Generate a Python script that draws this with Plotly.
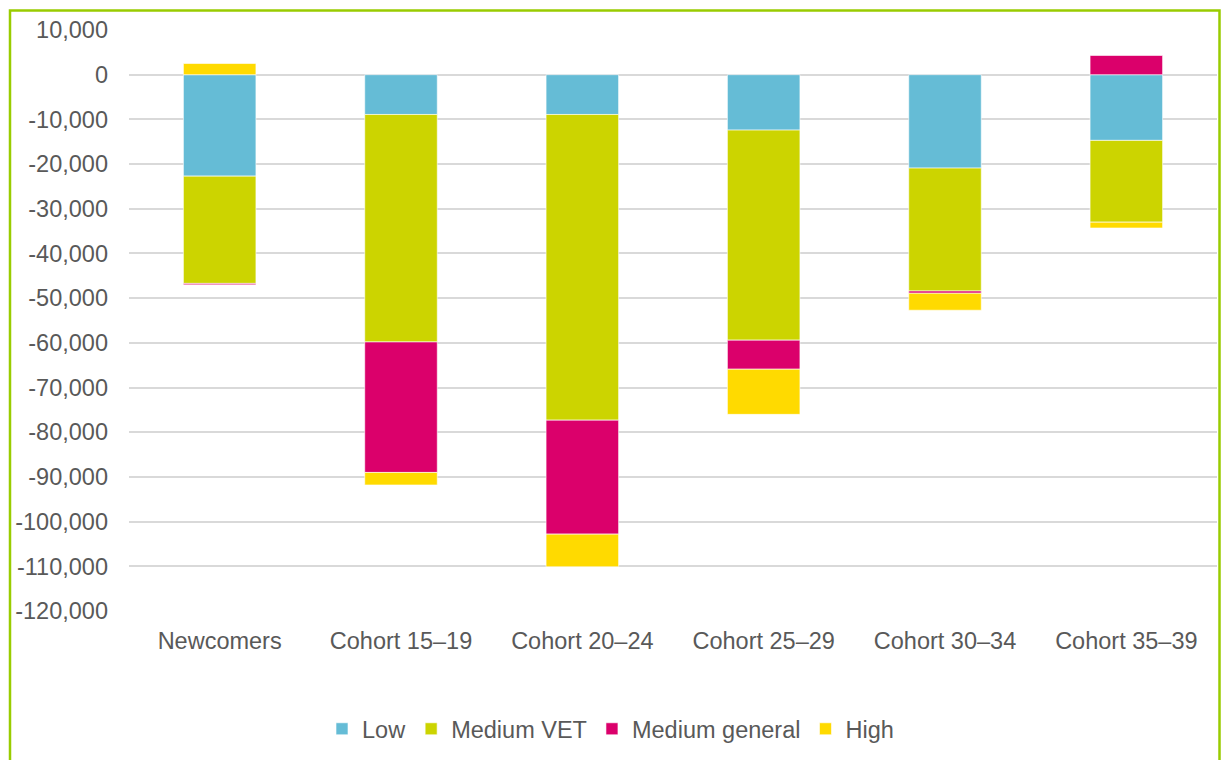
import plotly.graph_objects as go

categories = ["Newcomers", "Cohort 15–19", "Cohort 20–24", "Cohort 25–29", "Cohort 30–34", "Cohort 35–39"]
low = [-22700, -8900, -8900, -12400, -20900, -14700]
medium_vet = [-24000, -50900, -68400, -47000, -27500, -18300]
medium_general = [-300, -29200, -25500, -6500, -500, 4300]
high = [2500, -2800, -7300, -10100, -3800, -1300]

tick_vals = list(range(10000, -120001, -10000))
tick_text = [f"{v:,}" for v in tick_vals]

series = [
    ("Low", low, "#65BCD6"),
    ("Medium VET", medium_vet, "#CCD400"),
    ("Medium general", medium_general, "#DB006B"),
    ("High", high, "#FFDA00"),
]

fig = go.Figure()
for name, vals, col in series:
    fig.add_trace(go.Bar(
        x=categories, y=vals, name=name,
        marker=dict(color=col, line=dict(color="rgba(255,255,255,0.6)", width=1)),
    ))

W, H = 1221, 760
L, R, T, B = 129, W - 1217, 30, H - 611
pw, ph = W - L - R, H - T - B
FS = 23.5

def px(x):
    return (x - L) / pw

def py(y):
    return (H - B - y) / ph

fig.update_layout(
    width=W, height=H,
    barmode="relative",
    bargap=0.6,
    margin=dict(l=L, r=R, t=T, b=B, autoexpand=False),
    paper_bgcolor="white",
    plot_bgcolor="white",
    font=dict(family="Liberation Sans, Arial, sans-serif", size=FS, color="#595959"),
    xaxis=dict(showgrid=False, showline=False, ticks="", ticklabelstandoff=13,
               tickangle=0, automargin=False,
               tickfont=dict(size=FS, color="#595959")),
    yaxis=dict(range=[-120000, 10000], tickvals=tick_vals, ticktext=tick_text,
               showgrid=True, gridcolor="#D9D9D9", gridwidth=1.5, automargin=False,
               zeroline=False, showline=False, ticks="", ticklabelstandoff=20,
               tickfont=dict(size=FS, color="#595959")),
    legend=dict(orientation="h", x=0.5, xanchor="center", xref="container",
                y=(H - 729) / H, yanchor="middle", yref="container",
                font=dict(size=FS, color="#595959"), traceorder="normal",
                itemwidth=30, tracegroupgap=0),
    shapes=[
        dict(type="rect", xref="paper", yref="paper",
             x0=px(10), x1=px(1219.5), y0=py(790), y1=py(10.5),
             line=dict(color="#99CC00", width=2.5), fillcolor="rgba(0,0,0,0)", layer="above"),
    ],
)

fig.write_html("out.html")
